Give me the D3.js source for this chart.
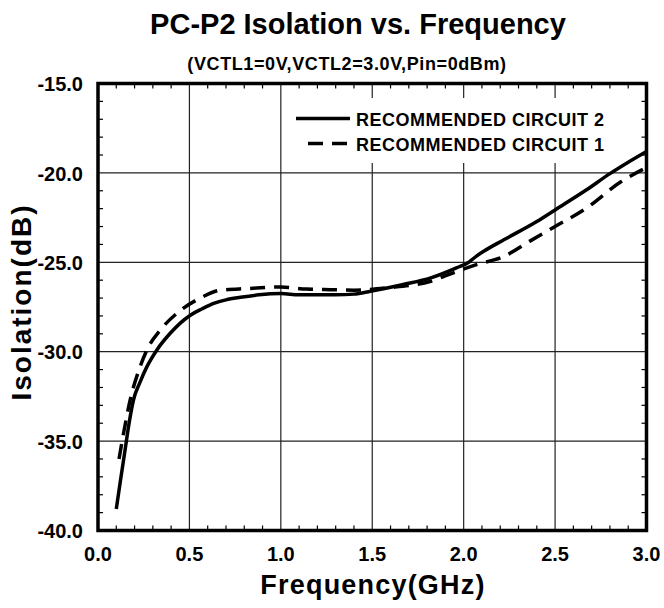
<!DOCTYPE html>
<html><head><meta charset="utf-8">
<script src="https://cdn.jsdelivr.net/npm/d3@7"></script>
<style>
body{margin:0;background:#fff}
svg{display:block}
text{font-family:"Liberation Sans",Arial,sans-serif;font-weight:bold;fill:#000}
</style>
</head><body><svg id="c" width="664" height="608"></svg>
<script>
const titleText = "PC-P2 Isolation vs. Frequency";
const subtitleText = "(VCTL1=0V,VCTL2=3.0V,Pin=0dBm)";
const xTitle = "Frequency(GHz)";
const yTitle = "Isolation(dB)";
const xTicks = [0, 0.5, 1.0, 1.5, 2.0, 2.5, 3.0];
const yTicks = [-15, -20, -25, -30, -35, -40];
const seriesNames = ["RECOMMENDED CIRCUIT 2", "RECOMMENDED CIRCUIT 1"];

const circuit2Freq = [0.10,0.12,0.148,0.17,0.194,0.23,0.267,0.322,0.395,0.45,0.505,0.57,0.633,0.70,0.779,0.88,1.00,1.10,1.30,1.40,1.49,1.67,1.82,1.96,2.03,2.07,2.11,2.22,2.40,2.50,2.67,2.80,2.90,3.00];
const circuit2Iso  = [-38.8,-37.4,-35.5,-34.0,-32.7,-31.7,-30.85,-29.9,-28.97,-28.4,-27.96,-27.6,-27.3,-27.1,-26.96,-26.82,-26.75,-26.82,-26.82,-26.78,-26.62,-26.24,-25.87,-25.31,-24.98,-24.65,-24.38,-23.74,-22.72,-22.07,-20.96,-20.04,-19.4,-18.8];

const circuit1Freq = [0.115,0.139,0.176,0.23,0.276,0.34,0.45,0.56,0.67,0.816,1.00,1.14,1.27,1.40,1.58,1.82,1.94,2.07,2.22,2.36,2.50,2.67,2.86,3.00];
const circuit1Iso  = [-36.0,-34.6,-32.7,-30.85,-29.73,-28.8,-27.7,-27.0,-26.56,-26.47,-26.38,-26.5,-26.53,-26.56,-26.43,-26.06,-25.6,-25.13,-24.67,-23.83,-23.0,-21.98,-20.5,-19.7];

const svg = d3.select("#c");
const L = 98, R = 646.5, T = 83.5, B = 530.5;
const x = d3.scaleLinear().domain([0, 3]).range([L, R]);
const y = d3.scaleLinear().domain([-40, -15]).range([B, T]);
const fmt = d3.formatLocale({decimal: ".", thousands: ",", grouping: [3], currency: ["", ""], minus: "-"}).format(".1f");

// titles
svg.append("text").attr("x", 358).attr("y", 34).attr("text-anchor", "middle")
  .style("font-size", "29px").text(titleText);
svg.append("text").attr("x", 347).attr("y", 70).attr("text-anchor", "middle")
  .style("font-size", "18px").style("letter-spacing", "0.6px").text(subtitleText);

// grid
const g = svg.append("g");
g.selectAll(".vg").data(xTicks.slice(1, -1)).enter().append("line")
  .attr("x1", d => x(d)).attr("x2", d => x(d)).attr("y1", T).attr("y2", B)
  .attr("stroke", "#222").attr("stroke-width", 1.2);
g.selectAll(".hg").data(yTicks.slice(1, -1)).enter().append("line")
  .attr("y1", d => y(d)).attr("y2", d => y(d)).attr("x1", L).attr("x2", R)
  .attr("stroke", "#222").attr("stroke-width", 1.2);

// minor ticks
const xMinor = d3.range(1, 30).map(i => i / 10).filter(v => Math.abs(v * 2 - Math.round(v * 2)) > 1e-6);
const yMinor = d3.range(-39, -15).filter(v => v % 5 !== 0);
const tl = 5;
xMinor.forEach(v => {
  g.append("line").attr("x1", x(v)).attr("x2", x(v)).attr("y1", B).attr("y2", B - tl).attr("stroke", "#000").attr("stroke-width", 1.2);
  g.append("line").attr("x1", x(v)).attr("x2", x(v)).attr("y1", T).attr("y2", T + tl).attr("stroke", "#000").attr("stroke-width", 1.2);
});
yMinor.forEach(v => {
  g.append("line").attr("y1", y(v)).attr("y2", y(v)).attr("x1", L).attr("x2", L + tl).attr("stroke", "#000").attr("stroke-width", 1.2);
  g.append("line").attr("y1", y(v)).attr("y2", y(v)).attr("x1", R).attr("x2", R - tl).attr("stroke", "#000").attr("stroke-width", 1.2);
});

// legend background
svg.append("rect").attr("x", 286).attr("y", 98).attr("width", 354).attr("height", 65).attr("fill", "#fff");

// curves
const line = d3.line().x(d => x(d[0])).y(d => y(d[1])).curve(d3.curveMonotoneX);
const s2 = circuit2Freq.map((f, i) => [f, circuit2Iso[i]]);
const s1 = circuit1Freq.map((f, i) => [f, circuit1Iso[i]]);
svg.append("path").datum(s1).attr("d", line).attr("fill", "none").attr("stroke", "#000")
  .attr("stroke-width", 3.5).attr("stroke-dasharray", "15,9");
svg.append("path").datum(s2).attr("d", line).attr("fill", "none").attr("stroke", "#000")
  .attr("stroke-width", 3.5);

// frame
svg.append("rect").attr("x", L).attr("y", T).attr("width", R - L).attr("height", B - T)
  .attr("fill", "none").attr("stroke", "#000").attr("stroke-width", 3.5);

// tick labels
svg.selectAll(".xl").data(xTicks).enter().append("text")
  .attr("x", d => x(d)).attr("y", 561).attr("text-anchor", "middle")
  .style("font-size", "20px").text(d => fmt(d));
svg.selectAll(".yl").data(yTicks).enter().append("text")
  .attr("x", 83).attr("y", d => y(d)).attr("dy", "0.38em").attr("text-anchor", "end")
  .style("font-size", "20px").text(d => fmt(d));

// axis titles
svg.append("text").attr("x", 373).attr("y", 594).attr("text-anchor", "middle")
  .style("font-size", "27px").style("letter-spacing", "1.2px").text(xTitle);
svg.append("text").attr("transform", "translate(31,302) rotate(-90)").attr("text-anchor", "middle")
  .style("font-size", "28px").style("letter-spacing", "2px").text(yTitle);

// legend
const legY = [118.5, 143.5];
svg.append("line").attr("x1", 296).attr("x2", 350).attr("y1", legY[0]).attr("y2", legY[0])
  .attr("stroke", "#000").attr("stroke-width", 3.5);
svg.append("line").attr("x1", 308).attr("x2", 350).attr("y1", legY[1]).attr("y2", legY[1])
  .attr("stroke", "#000").attr("stroke-width", 3.5).attr("stroke-dasharray", "15,9");
seriesNames.forEach((n, i) => {
  svg.append("text").attr("x", 356).attr("y", legY[i] + 7).style("font-size", "18px")
    .style("letter-spacing", "0.5px").text(n);
});
</script>
</body></html>
